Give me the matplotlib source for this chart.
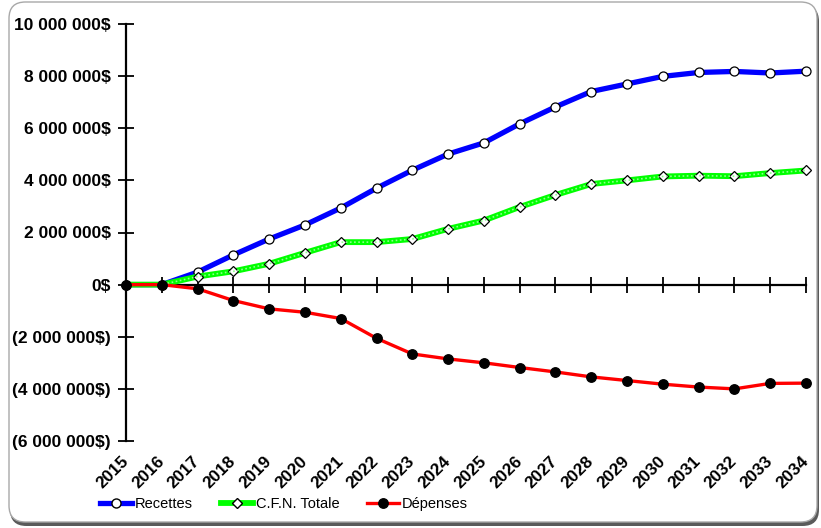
import matplotlib.pyplot as plt
from matplotlib.patches import FancyBboxPatch
from matplotlib.ticker import FuncFormatter
from matplotlib.lines import Line2D

# ========== DATA ==========

YEARS = list(range(2015, 2035))

RECETTES = [0, 0, 480_000, 1_140_000, 1_750_000, 2_290_000, 2_940_000, 3_700_000,
            4_390_000, 5_010_000, 5_440_000, 6_170_000, 6_820_000, 7_410_000,
            7_700_000, 7_990_000, 8_140_000, 8_180_000, 8_120_000, 8_190_000]

CFN_TOTALE = [0, 0, 310_000, 510_000, 800_000, 1_220_000, 1_630_000, 1_630_000,
              1_750_000, 2_140_000, 2_460_000, 2_980_000, 3_440_000, 3_860_000,
              4_000_000, 4_150_000, 4_180_000, 4_160_000, 4_280_000, 4_380_000]

DEPENSES = [0, 0, -160_000, -610_000, -930_000, -1_060_000, -1_300_000, -2_060_000,
            -2_660_000, -2_850_000, -3_000_000, -3_180_000, -3_350_000, -3_540_000,
            -3_680_000, -3_820_000, -3_930_000, -4_000_000, -3_790_000, -3_780_000]

Y_TICKS = list(range(-6_000_000, 10_000_001, 2_000_000))

FONT = "Liberation Sans"

# ==========================


def money(v, pos=None):
    s = f"{abs(int(v)):,}".replace(",", " ") + "$"
    return f"({s})" if v < 0 else s


def draw_frame(fig):
    W, H = fig.get_size_inches() * fig.dpi
    px = lambda v: v / W
    py = lambda v: v / H
    aspect = W / H
    shadow = FancyBboxPatch((px(10), py(2)), px(809), py(521),
                            boxstyle="round,pad=0,rounding_size=0.02",
                            mutation_aspect=aspect, transform=fig.transFigure,
                            facecolor="#5a5a5a", edgecolor="none", zorder=-2)
    frame = FancyBboxPatch((px(9), py(6)), px(808), py(520),
                           boxstyle="round,pad=0,rounding_size=0.02",
                           mutation_aspect=aspect, transform=fig.transFigure,
                           facecolor="white", edgecolor="#a8a8a8", linewidth=1.0, zorder=-1)
    fig.patches.extend([shadow, frame])


def main():
    plt.rcParams["font.family"] = [FONT, "DejaVu Sans"]

    fig = plt.figure(figsize=(8.21, 5.28), dpi=100)
    draw_frame(fig)

    ax = fig.add_axes([126 / 821, 1 - 441 / 528, 680 / 821, 417 / 528])
    ax.patch.set_visible(False)

    ax.plot(YEARS, RECETTES, color="#0000ff", lw=3.8, marker="o", ms=6.5,
            mfc="white", mec="black", mew=0.9, label="Recettes", clip_on=False)
    ax.plot(YEARS, CFN_TOTALE, color="#00ff00", lw=4.2, marker="D", ms=5.2,
            mfc="white", mec="black", mew=0.9, label="C.F.N. Totale", clip_on=False)
    ax.plot(YEARS, CFN_TOTALE, color="#8cff8c", lw=1.2, ls=(0, (1, 1.5)), clip_on=False)
    ax.plot(YEARS, DEPENSES, color="#ff0000", lw=2.4, marker="o", ms=6.8,
            mfc="black", mec="black", label="Dépenses", clip_on=False)

    ax.set_xlim(2015, 2034)
    ax.set_ylim(-6_000_000, 10_000_000)

    # y axis
    ax.set_yticks(Y_TICKS)
    ax.yaxis.set_major_formatter(FuncFormatter(money))
    ax.tick_params(axis="y", direction="inout", length=12, width=1.3, pad=5,
                   labelsize=12.5)
    for lbl in ax.get_yticklabels():
        lbl.set_fontweight("bold")

    for side in ("top", "right", "bottom"):
        ax.spines[side].set_visible(False)
    ax.spines["left"].set_linewidth(1.6)

    # year labels along the bottom
    ax.set_xticks(YEARS)
    ax.set_xticklabels([str(y) for y in YEARS], rotation=45, ha="right",
                       va="center", rotation_mode="anchor",
                       fontsize=12.3, fontweight="bold")
    ax.tick_params(axis="x", length=0, pad=13)

    # axis line through zero with crossing ticks
    zero = ax.secondary_xaxis(6 / 16)
    zero.set_xticks(YEARS)
    zero.set_xticklabels([])
    zero.tick_params(direction="inout", length=12, width=1.3)
    zero.spines["bottom"].set_linewidth(1.6)

    handles = [
        Line2D([], [], color="#0000ff", lw=3.8, marker="o", ms=6.5, mfc="white", mec="black"),
        Line2D([], [], color="#00ff00", lw=4.2, marker="D", ms=5.2, mfc="white", mec="black"),
        Line2D([], [], color="#ff0000", lw=2.4, marker="o", ms=6.8, mfc="black", mec="black"),
    ]
    fig.legend(handles, ["Recettes", "C.F.N. Totale", "Dépenses"], ncol=3,
               loc="center left", bbox_to_anchor=(100 / 821, 1 - 504 / 528),
               frameon=False, fontsize=10.5, handlelength=2.2, handletextpad=0.2,
               columnspacing=1.9, borderpad=0, borderaxespad=0)

    fig.savefig("out.png", dpi=100)
    plt.close(fig)


if __name__ == "__main__":
    main()
